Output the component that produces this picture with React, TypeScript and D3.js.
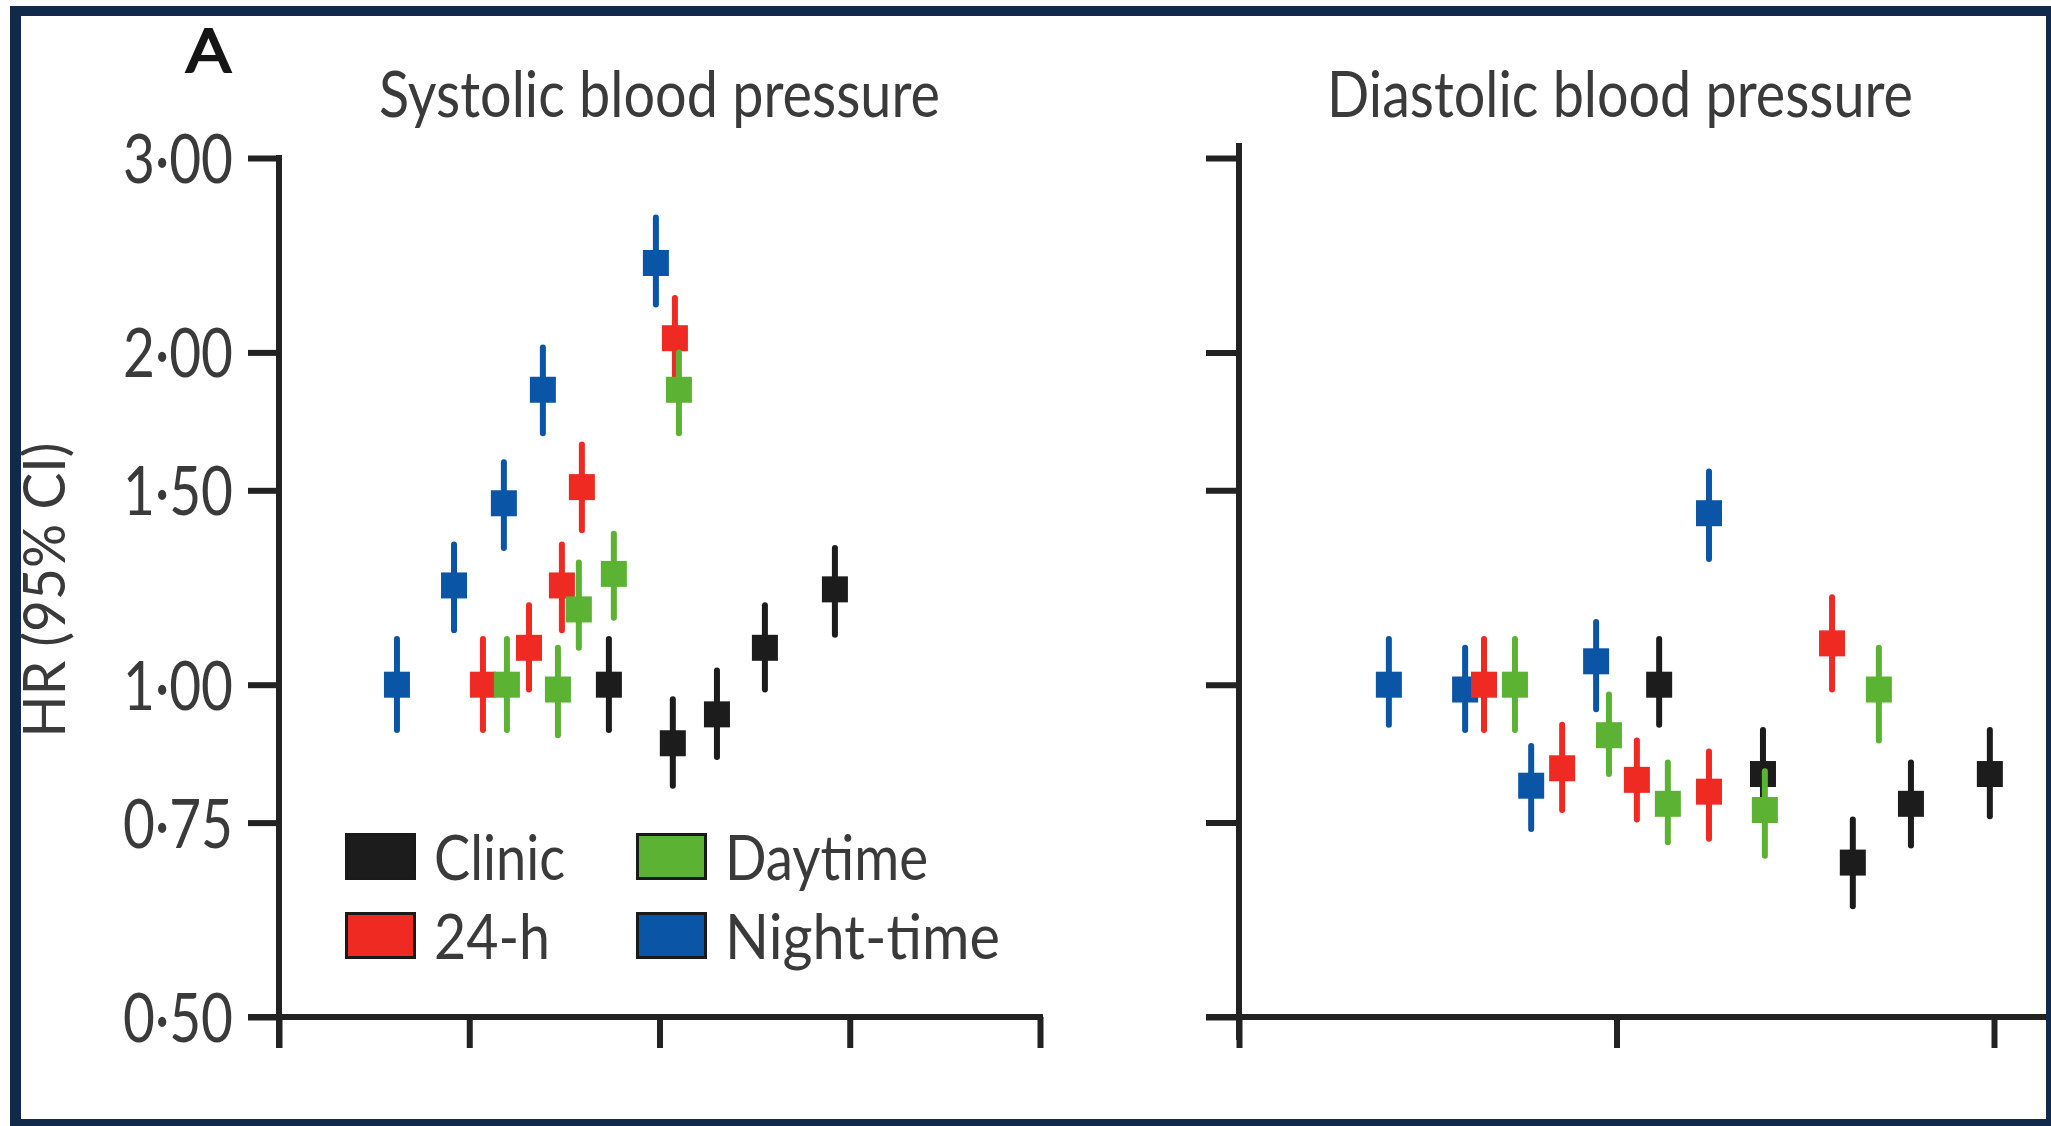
import { useEffect, useRef } from "react"
import * as d3 from "d3"

const W = 2051
const H = 1126

const groups = ["Clinic", "24-h", "Daytime", "Night-time"]
const drawOrder = ["Clinic", "Night-time", "24-h", "Daytime"]
const yTicks = [0.5, 0.75, 1, 1.5, 2, 3]
const sysXTicks = [0, 1, 2, 3, 4]
const diaXTicks = [0, 1, 2]

// [x position, HR, lower 95% CI, upper 95% CI]
const sysClinic = [
  [1.734, 1.0, 0.91, 1.1],
  [2.07, 0.885, 0.81, 0.97],
  [2.302, 0.94, 0.86, 1.03],
  [2.554, 1.08, 0.99, 1.18],
  [2.922, 1.22, 1.11, 1.33],
]
const sys24h = [
  [1.072, 1.0, 0.91, 1.1],
  [1.314, 1.08, 0.99, 1.18],
  [1.487, 1.23, 1.12, 1.34],
  [1.592, 1.51, 1.38, 1.65],
  [2.081, 2.06, 1.89, 2.24],
]
const sysDay = [
  [1.198, 1.0, 0.91, 1.1],
  [1.466, 0.99, 0.9, 1.08],
  [1.576, 1.17, 1.08, 1.29],
  [1.76, 1.26, 1.15, 1.37],
  [2.102, 1.85, 1.69, 2.0],
]
const sysNight = [
  [0.62, 1.0, 0.91, 1.1],
  [0.92, 1.23, 1.12, 1.34],
  [1.182, 1.46, 1.33, 1.59],
  [1.387, 1.85, 1.69, 2.02],
  [1.981, 2.41, 2.21, 2.65],
]

const diaClinic = [
  [1.113, 1.0, 0.92, 1.1],
  [1.388, 0.83, 0.76, 0.91],
  [1.626, 0.69, 0.63, 0.755],
  [1.78, 0.78, 0.715, 0.85],
  [1.989, 0.83, 0.76, 0.91],
]
const dia24h = [
  [0.649, 1.0, 0.91, 1.1],
  [0.856, 0.84, 0.77, 0.92],
  [1.054, 0.82, 0.755, 0.89],
  [1.245, 0.8, 0.725, 0.87],
  [1.571, 1.09, 0.99, 1.2],
]
const diaDay = [
  [0.731, 1.0, 0.91, 1.1],
  [0.98, 0.9, 0.83, 0.98],
  [1.136, 0.78, 0.72, 0.85],
  [1.393, 0.77, 0.7, 0.835],
  [1.695, 0.99, 0.89, 1.08],
]
const diaNight = [
  [0.397, 1.0, 0.92, 1.1],
  [0.599, 0.99, 0.91, 1.08],
  [0.774, 0.81, 0.74, 0.88],
  [0.946, 1.05, 0.95, 1.14],
  [1.245, 1.43, 1.3, 1.56],
]

const colors: Record<string, string> = {
  Clinic: "#1c1c1c",
  "24-h": "#ee2a22",
  Daytime: "#5cb232",
  "Night-time": "#0b55a6",
}

const FONT = "Lato, 'Open Sans', sans-serif"
const INK = "#222"
const TXT = "#3a3a3a"

export default function App() {
  const svgRef = useRef(null)

  useEffect(() => {
    const svg = d3.select(svgRef.current).attr("width", W).attr("height", H)
    svg.selectAll("*").remove()

    svg.append("rect").attr("width", W).attr("height", H).attr("fill", "#fff")

    // navy frame
    const navy = "#112a4b"
    svg.append("rect").attr("x", 10).attr("y", 6).attr("width", W - 10).attr("height", 10).attr("fill", navy)
    svg.append("rect").attr("x", 10).attr("y", 6).attr("width", 11).attr("height", H - 6).attr("fill", navy)
    svg.append("rect").attr("x", 2046).attr("y", 6).attr("width", 5).attr("height", H - 6).attr("fill", navy)
    svg.append("rect").attr("x", 10).attr("y", 1119).attr("width", W - 10).attr("height", 7).attr("fill", navy)

    const y = d3.scaleLog().domain([0.5, 3]).range([1017, 158])
    const xSys = d3.scaleLinear().domain([0, 4]).range([279, 1040])
    const xDia = d3.scaleLinear().domain([0, 2]).range([1239, 1994])

    const fmt = (d: number) => d3.format(".2f")(d).replace(".", "·")

    const styleAxis = (g: any) => {
      g.selectAll("line").attr("stroke", INK).attr("stroke-width", 6)
      g.selectAll(".domain").remove()
    }

    // systolic y axis
    const gSy = svg
      .append("g")
      .attr("transform", "translate(279,0)")
      .call(d3.axisLeft(y).tickValues(yTicks).tickFormat(fmt as any).tickSize(31).tickSizeOuter(0).tickPadding(15))
    styleAxis(gSy)
    gSy
      .selectAll("text")
      .attr("fill", TXT)
      .attr("font-family", FONT)
      .attr("font-size", 68)
      .attr("dy", "0.36em")
      .attr("textLength", 110)
      .attr("lengthAdjust", "spacingAndGlyphs")
    svg.append("line").attr("x1", 279).attr("x2", 279).attr("y1", y(3) - 3).attr("y2", 1048).attr("stroke", INK).attr("stroke-width", 6)

    // systolic x axis
    const gSx = svg
      .append("g")
      .attr("transform", "translate(0,1017)")
      .call(d3.axisBottom(xSys).tickValues(sysXTicks).tickFormat(() => "").tickSize(31).tickSizeOuter(0))
    styleAxis(gSx)
    svg.append("line").attr("x1", 248).attr("x2", xSys(4) + 3).attr("y1", 1017).attr("y2", 1017).attr("stroke", INK).attr("stroke-width", 6)

    // diastolic y axis
    const gDy = svg
      .append("g")
      .attr("transform", "translate(1239,0)")
      .call(d3.axisLeft(y).tickValues(yTicks).tickFormat(() => "").tickSize(33).tickSizeOuter(0))
    styleAxis(gDy)
    svg.append("line").attr("x1", 1239).attr("x2", 1239).attr("y1", 143).attr("y2", 1040).attr("stroke", INK).attr("stroke-width", 6)

    // diastolic x axis
    const gDx = svg
      .append("g")
      .attr("transform", "translate(0,1017)")
      .call(d3.axisBottom(xDia).tickValues(diaXTicks).tickFormat(() => "").tickSize(31).tickSizeOuter(0))
    styleAxis(gDx)
    svg.append("line").attr("x1", 1206).attr("x2", 2046).attr("y1", 1017).attr("y2", 1017).attr("stroke", INK).attr("stroke-width", 6)

    // points
    const panels = [
      { x: xSys, data: { Clinic: sysClinic, "24-h": sys24h, Daytime: sysDay, "Night-time": sysNight } as Record<string, number[][]> },
      { x: xDia, data: { Clinic: diaClinic, "24-h": dia24h, Daytime: diaDay, "Night-time": diaNight } as Record<string, number[][]> },
    ]
    const S = 26
    panels.forEach((p) => {
      drawOrder.forEach((name) => {
        const g = svg.append("g").attr("fill", colors[name]).attr("stroke", colors[name])
        p.data[name].forEach(([xv, hr, lo, hi]) => {
          const cx = p.x(xv)
          g.append("line")
            .attr("x1", cx)
            .attr("x2", cx)
            .attr("y1", y(lo))
            .attr("y2", y(hi))
            .attr("stroke-width", 6)
            .attr("stroke-linecap", "round")
          g.append("rect")
            .attr("x", cx - S / 2)
            .attr("y", y(hr) - S / 2)
            .attr("width", S)
            .attr("height", S)
            .attr("stroke", "none")
        })
      })
    })

    // titles
    const addText = (t: string, x: number, yy: number, size: number, len?: number) => {
      const el = svg
        .append("text")
        .attr("x", x)
        .attr("y", yy)
        .attr("font-family", FONT)
        .attr("font-size", size)
        .attr("fill", TXT)
        .text(t)
      if (len) el.attr("textLength", len).attr("lengthAdjust", "spacingAndGlyphs")
      return el
    }
    addText("A", 186, 72, 60, 45).attr("fill", "#161616").attr("stroke", "#161616").attr("stroke-width", 2)
    addText("Systolic blood pressure", 379, 117, 64, 561)
    addText("Diastolic blood pressure", 1327, 117, 64, 586)

    svg
      .append("text")
      .attr("transform", "translate(65,590) rotate(-90)")
      .attr("text-anchor", "middle")
      .attr("font-family", FONT)
      .attr("font-size", 58)
      .attr("fill", TXT)
      .attr("textLength", 295)
      .attr("lengthAdjust", "spacingAndGlyphs")
      .text("HR (95% CI)")

    // legend
    const legendPos: Record<string, [number, number]> = {
      Clinic: [345, 833],
      "24-h": [345, 912],
      Daytime: [636, 833],
      "Night-time": [636, 912],
    }
    const legendLen: Record<string, number> = { Clinic: 131, "24-h": 116, Daytime: 203, "Night-time": 275 }
    groups.forEach((name) => {
      const [lx, ly] = legendPos[name]
      svg
        .append("rect")
        .attr("x", lx + 1.5)
        .attr("y", ly + 1.5)
        .attr("width", 68)
        .attr("height", 44)
        .attr("fill", colors[name])
        .attr("stroke", "#1a1a1a")
        .attr("stroke-width", 3)
      addText(name, lx + 89, ly + 47, 62, legendLen[name])
    })
  }, [])

  return (
    <div style={{ position: "absolute", left: 0, top: 0 }}>
      <svg ref={svgRef}></svg>
    </div>
  )
}
